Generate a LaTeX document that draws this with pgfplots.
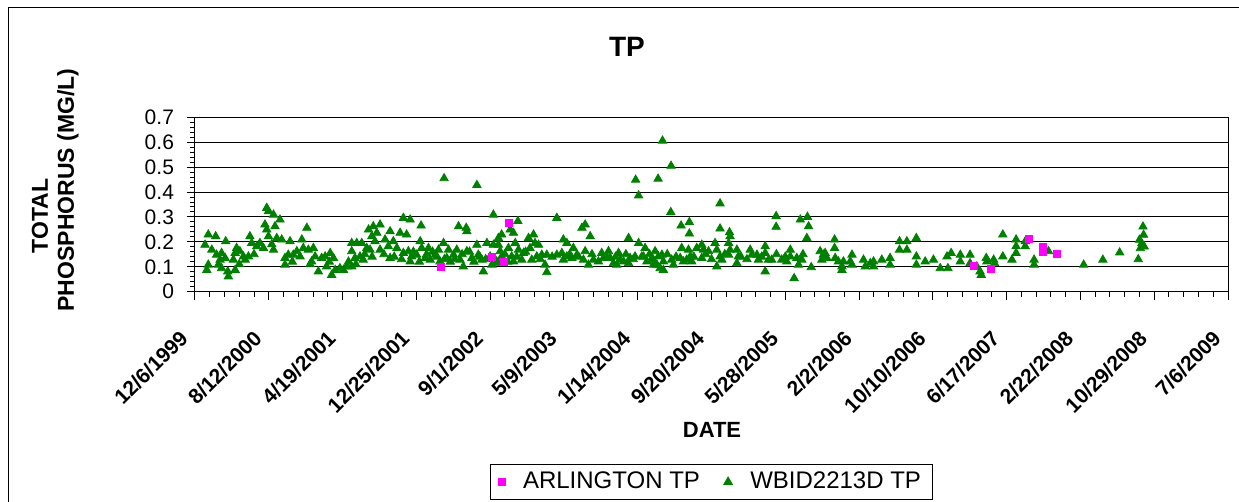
\documentclass[border=0pt]{standalone}
\usepackage{pgfplots}
\pgfplotsset{compat=1.18}
\usepackage{fontspec}
\setmainfont{Liberation Sans}
\definecolor{tpgreen}{HTML}{008000}
\definecolor{tpmag}{HTML}{FF00FF}
\begin{document}
\begin{tikzpicture}
\useasboundingbox (0,0) rectangle (619.5pt,-251pt);
\draw[black, line width=0.5pt] (4pt,-260pt) -- (4pt,-4pt) -- (630pt,-4pt);
\node[font=\bfseries\fontsize{14}{16}\selectfont] at (313.5pt,-23.5pt) {TP};
\node[rotate=90, font=\bfseries\fontsize{11.5}{14}\selectfont] at (20pt,-108pt) {TOTAL};
\node[rotate=90, font=\bfseries\fontsize{11.5}{14}\selectfont] at (34pt,-95pt) {PHOSPHORUS (MG/L)};
\node[font=\bfseries\fontsize{11}{12}\selectfont] at (356pt,-215pt) {DATE};
\begin{axis}[
  at={(97.5pt,-145.85pt)}, anchor=south west,
  scale only axis, width=516.5pt, height=87.2pt,
  xmin=0, xmax=3500, ymin=0, ymax=0.7,
  xtick={0,250,500,750,1000,1250,1500,1750,2000,2250,2500,2750,3000,3250,3500},
  xticklabels={12/6/1999,8/12/2000,4/19/2001,12/25/2001,9/1/2002,5/9/2003,1/14/2004,9/20/2004,5/28/2005,2/2/2006,10/10/2006,6/17/2007,2/22/2008,10/29/2008,7/6/2009},
  minor x tick num=4,
  ytick={0,0.1,0.2,0.3,0.4,0.5,0.6,0.7},
  yticklabels={0,0.1,0.2,0.3,0.4,0.5,0.6,0.7},
  minor y tick num=4,
  ymajorgrids, major grid style={black, line width=0.5pt},
  tick align=outside, tick pos=left,
  major tick length=4pt, minor tick length=2.5pt,
  tick style={black, line width=0.5pt},
  axis line style={black, line width=0.5pt},
  yticklabel style={font=\fontsize{10.5}{12}\selectfont, xshift=-3pt},
  xticklabel style={font=\bfseries\fontsize{10.5}{12}\selectfont, xshift=-3pt, yshift=-15pt, rotate=45, anchor=east},
  legend style={at={(0.5,-1.091)}, anchor=center, legend columns=2, draw=black, line width=0.5pt,
    font=\fontsize{12}{14}\selectfont, inner xsep=4pt, inner ysep=2pt,
    /tikz/every odd column/.append style={column sep=7pt},
    /tikz/every even column/.append style={column sep=10pt}},
  legend cell align=left,
]
\addplot[only marks, mark=triangle*, mark size=2.4pt, color=tpgreen, forget plot] coordinates {
(34,0.188)(45,0.229)(70,0.222)(104,0.202)(57,0.168)(73,0.148)(90,0.155)(85,0.128)(102,0.135)(45,0.108)
(40,0.087)(79,0.108)(90,0.094)(111,0.081)(113,0.061)(141,0.175)(136,0.155)(152,0.162)(130,0.128)(136,0.087)
(164,0.141)(181,0.141)(170,0.128)(186,0.222)(192,0.195)(209,0.182)(220,0.195)(232,0.175)(243,0.336)(249,0.323)
(266,0.309)(288,0.289)(237,0.269)(243,0.249)(271,0.262)(249,0.222)(277,0.215)(294,0.209)(322,0.202)(266,0.168)
(305,0.135)(305,0.108)(316,0.148)(333,0.148)(345,0.162)(362,0.209)(367,0.175)(379,0.256)(356,0.141)(384,0.168)
(401,0.175)(407,0.141)(395,0.121)(418,0.081)(429,0.135)(441,0.141)(458,0.155)(469,0.135)(446,0.101)(463,0.067)
(475,0.087)(491,0.094)(503,0.087)(150,0.11)(200,0.15)(260,0.19)(330,0.12)(390,0.11)(455,0.12)
(514,0.101)(531,0.101)(531,0.195)(548,0.195)(565,0.195)(531,0.162)(542,0.135)(559,0.141)(570,0.128)(582,0.175)
(588,0.249)(604,0.262)(627,0.269)(599,0.222)(610,0.202)(616,0.236)(593,0.168)(627,0.168)(644,0.209)(661,0.242)
(655,0.182)(672,0.202)(661,0.135)(684,0.175)(695,0.236)(717,0.229)(706,0.296)(729,0.289)(766,0.265)(706,0.155)
(723,0.162)(734,0.141)(729,0.121)(751,0.148)(763,0.202)(768,0.175)(780,0.135)(791,0.175)(797,0.128)(814,0.148)
(825,0.168)(830,0.121)(842,0.195)(859,0.168)(853,0.135)(876,0.148)(887,0.168)(893,0.262)(919,0.256)(921,0.242)
(898,0.128)(909,0.101)(921,0.162)(938,0.135)(955,0.188)(960,0.148)(977,0.081)(972,0.128)(989,0.195)(1000,0.141)
(1011,0.309)(1011,0.188)(1022,0.121)(1028,0.215)(1006,0.108)
(520,0.12)(545,0.11)(575,0.15)(600,0.14)(640,0.15)(675,0.14)(700,0.13)(740,0.16)(760,0.12)(785,0.15)
(805,0.16)(820,0.14)(845,0.13)(865,0.12)(880,0.13)(905,0.15)(930,0.16)(945,0.12)(965,0.14)(985,0.13)
(844,0.455)(955,0.428)
(1094,0.283)(1226,0.296)(1503,0.386)(1039,0.229)(1068,0.249)(1079,0.236)(1028,0.188)(1034,0.162)(1028,0.114)(1039,0.141)
(1062,0.175)(1073,0.141)(1079,0.121)(1085,0.195)(1096,0.168)(1113,0.155)(1107,0.128)(1130,0.215)(1147,0.229)(1135,0.175)
(1152,0.195)(1164,0.188)(1141,0.128)(1158,0.141)(1175,0.148)(1192,0.148)(1186,0.108)(1192,0.078)(1226,0.148)(1243,0.155)
(1248,0.128)(1260,0.141)(1248,0.209)(1260,0.195)(1282,0.175)(1294,0.148)(1277,0.135)(1311,0.256)(1322,0.269)(1339,0.222)
(1322,0.162)(1316,0.128)(1333,0.108)(1350,0.128)(1378,0.155)(1367,0.121)(1384,0.135)(1401,0.162)(1407,0.135)(1418,0.114)
(1435,0.155)(1441,0.128)(1429,0.108)(1452,0.121)(1469,0.215)(1474,0.135)(1469,0.114)(1491,0.141)(1503,0.195)(1525,0.175)
(1514,0.141)(1531,0.121)(1548,0.135)(1553,0.108)
(1050,0.15)(1060,0.12)(1090,0.14)(1120,0.16)(1170,0.13)(1210,0.14)(1270,0.15)(1300,0.14)(1345,0.15)(1395,0.14)
(1425,0.14)(1460,0.15)(1485,0.13)(1520,0.14)(1540,0.15)
(1493,0.449)(1569,0.453)(1584,0.606)(1613,0.505)
(1612,0.319)(1779,0.354)(1969,0.303)(1969,0.26)(2051,0.289)(2075,0.3)(2079,0.262)(2073,0.215)(1647,0.265)(1675,0.279)
(1675,0.233)(1779,0.253)(1811,0.238)(1813,0.222)(1559,0.162)(1553,0.128)(1570,0.141)(1582,0.148)(1587,0.121)(1576,0.094)
(1587,0.087)(1565,0.108)(1615,0.128)(1621,0.108)(1649,0.175)(1644,0.135)(1655,0.121)(1672,0.168)(1666,0.128)(1678,0.141)
(1683,0.121)(1700,0.175)(1717,0.188)(1723,0.168)(1717,0.135)(1740,0.162)(1762,0.195)(1768,0.168)(1779,0.141)(1785,0.128)
(1768,0.101)(1808,0.195)(1813,0.168)(1808,0.148)(1836,0.168)(1841,0.141)(1836,0.114)(1881,0.168)(1887,0.148)(1904,0.148)
(1909,0.128)(1932,0.182)(1932,0.155)(1943,0.128)(1954,0.128)(1932,0.081)(1988,0.128)(2005,0.121)(2017,0.168)(2017,0.141)
(2039,0.135)(2045,0.108)(2056,0.128)(2030,0.054)
(1600,0.15)(1630,0.14)(1690,0.14)(1730,0.15)(1750,0.13)(1795,0.15)(1850,0.14)(1870,0.13)(1920,0.14)(1970,0.15)
(2000,0.14)(2060,0.15)
(2088,0.098)(2118,0.162)(2129,0.148)(2124,0.128)(2135,0.155)(2141,0.135)(2167,0.209)(2167,0.175)(2169,0.135)(2180,0.121)
(2192,0.101)(2197,0.121)(2192,0.087)(2226,0.148)(2226,0.108)(2220,0.121)(2265,0.128)(2271,0.101)(2288,0.114)(2299,0.121)
(2299,0.101)(2327,0.128)(2355,0.135)(2355,0.108)(2387,0.202)(2387,0.168)(2412,0.202)(2412,0.168)(2444,0.215)(2444,0.141)
(2444,0.108)(2474,0.121)(2502,0.128)(2525,0.094)(2551,0.094)(2548,0.141)(2562,0.155)(2593,0.148)(2593,0.121)
(2626,0.148)(2626,0.114)(2649,0.101)(2660,0.081)(2664,0.067)(2681,0.135)(2683,0.121)(2706,0.128)(2709,0.114)(2737,0.229)
(2737,0.141)(2768,0.128)(2782,0.209)(2782,0.182)(2782,0.155)(2813,0.202)(2813,0.182)(2843,0.128)(2843,0.108)(2892,0.162)
(3011,0.108)(3076,0.128)(3133,0.157)
(3212,0.261)(3214,0.228)(3200,0.208)(3208,0.194)(3203,0.174)(3196,0.13)(3216,0.181)
};
\addplot[only marks, mark=square*, mark size=1.75pt, color=tpmag] coordinates {
(833,0.10)(1005,0.14)(1047,0.118)(1065,0.276)(2640,0.104)(2697,0.09)(2824,0.21)(2873,0.178)(2873,0.16)(2920,0.15)
};
\addlegendentry{ARLINGTON TP}
\addlegendimage{only marks, mark=triangle*, mark size=2.4pt, color=tpgreen}
\addlegendentry{WBID2213D TP}
\end{axis}
\end{tikzpicture}
\end{document}
